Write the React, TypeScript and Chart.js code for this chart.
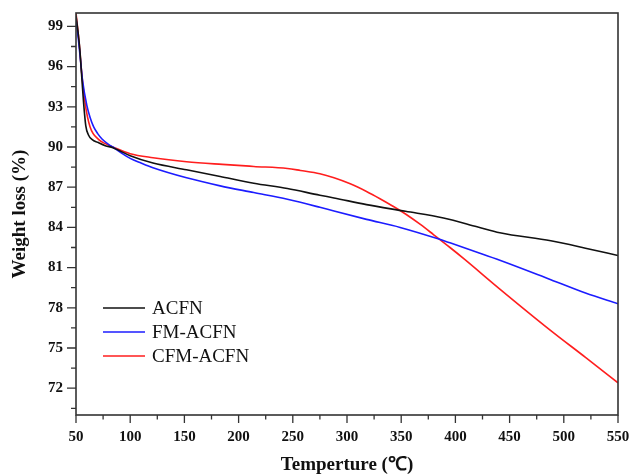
import React, { useEffect, useRef } from 'react';
import { Chart, registerables } from 'chart.js';

Chart.register(...registerables);

// ---- data ----
const ACFN_T = [50, 52, 53.5, 55.5, 57, 59, 61.5, 65, 70, 77, 84, 100, 121, 152, 183, 214, 245, 275, 288, 318, 354, 389, 420, 441, 488, 520, 550];
const ACFN_W = [99.8, 98.5, 97.3, 95.0, 93.3, 91.6, 90.9, 90.55, 90.35, 90.1, 89.95, 89.35, 88.8, 88.3, 87.8, 87.3, 86.9, 86.4, 86.2, 85.7, 85.2, 84.7, 84.05, 83.6, 83.0, 82.45, 81.9];

const FM_T = [50, 52, 54, 56, 60, 63, 66.3, 70, 74, 80, 84, 92, 100, 110, 121, 152, 183, 214, 245, 275, 288, 318, 349, 384, 395, 420, 441, 488, 520, 550];
const FM_W = [99.6, 98.2, 96.6, 95.0, 93.1, 92.2, 91.5, 91.0, 90.6, 90.2, 90.0, 89.55, 89.15, 88.8, 88.45, 87.7, 87.1, 86.6, 86.1, 85.5, 85.22, 84.6, 84.0, 83.15, 82.85, 82.15, 81.55, 80.1, 79.1, 78.3];

const CFM_T = [50, 53, 55.5, 58.5, 63, 71, 77, 84, 100, 121, 152, 185, 214, 245, 257, 275, 288, 303, 318, 330, 342, 354, 368, 380, 395, 408, 441, 488, 520, 550];
const CFM_W = [100, 97.7, 95.3, 93.2, 91.5, 90.55, 90.25, 90.0, 89.5, 89.2, 88.9, 88.7, 88.55, 88.4, 88.25, 88.0, 87.7, 87.25, 86.68, 86.16, 85.6, 85.0, 84.2, 83.45, 82.5, 81.65, 79.4, 76.3, 74.3, 72.4];

const SERIES_NAMES = ['ACFN', 'FM-ACFN', 'CFM-ACFN'];
const SERIES_COLORS = ['#111111', '#1c1cff', '#ff1e1e'];

const Y_TICKS = [72, 75, 78, 81, 84, 87, 90, 93, 96, 99];
const Y_MINOR = [70.5, 73.5, 76.5, 79.5, 82.5, 85.5, 88.5, 91.5, 94.5, 97.5];
const X_MINOR = [75, 125, 175, 225, 275, 325, 375, 425, 475, 525];

const X_TITLE = 'Temperture (\u2103)';
const Y_TITLE = 'Weight loss (%)';

const FONT = "'Liberation Serif', 'Times New Roman', serif";

const zip = (t: number[], w: number[]) => t.map((x, i) => ({ x, y: w[i] }));

const framePlugin = {
  id: 'frame',
  afterDraw(chart: any) {
    const { ctx, chartArea: a, scales } = chart;
    const xs = scales.x;
    const ys = scales.y;
    ctx.save();
    ctx.strokeStyle = '#333333';
    ctx.lineWidth = 1.6;
    ctx.strokeRect(a.left, a.top, a.right - a.left, a.bottom - a.top);
    ctx.lineWidth = 1.3;
    ctx.beginPath();
    Y_TICKS.forEach((v) => {
      const y = ys.getPixelForValue(v);
      ctx.moveTo(a.left - 9, y);
      ctx.lineTo(a.left, y);
    });
    Y_MINOR.forEach((v) => {
      const y = ys.getPixelForValue(v);
      ctx.moveTo(a.left - 5, y);
      ctx.lineTo(a.left, y);
    });
    xs.ticks.forEach((t: any) => {
      const x = xs.getPixelForValue(t.value);
      ctx.moveTo(x, a.bottom);
      ctx.lineTo(x, a.bottom + 8);
    });
    X_MINOR.forEach((v) => {
      const x = xs.getPixelForValue(v);
      ctx.moveTo(x, a.bottom);
      ctx.lineTo(x, a.bottom + 4.5);
    });
    ctx.stroke();

    // legend inside the plot
    const lx = a.left + 27;
    let ly = a.top + 295;
    chart.data.datasets.forEach((ds: any) => {
      ctx.strokeStyle = ds.borderColor;
      ctx.lineWidth = 1.6;
      ctx.beginPath();
      ctx.moveTo(lx, ly);
      ctx.lineTo(lx + 42, ly);
      ctx.stroke();
      ctx.fillStyle = '#111';
      ctx.font = `19px ${FONT}`;
      ctx.textBaseline = 'middle';
      ctx.textAlign = 'left';
      ctx.fillText(ds.label, lx + 49, ly + 1);
      ly += 24;
    });
    ctx.restore();
  },
};

export default function App() {
  const ref = useRef<HTMLCanvasElement | null>(null);

  useEffect(() => {
    if (!ref.current) return;
    const pairs = [zip(ACFN_T, ACFN_W), zip(FM_T, FM_W), zip(CFM_T, CFM_W)];
    const chart = new Chart(ref.current, {
      type: 'line',
      data: {
        datasets: pairs.map((d, i) => ({
          label: SERIES_NAMES[i],
          data: d,
          borderColor: SERIES_COLORS[i],
          backgroundColor: SERIES_COLORS[i],
          borderWidth: 1.6,
          pointRadius: 0,
          cubicInterpolationMode: 'monotone' as const,
          fill: false,
        })),
      },
      options: {
        animation: false,
        responsive: false,
        devicePixelRatio: 1,
        layout: { padding: { top: 13, right: 12, left: 0, bottom: 0 } },
        plugins: {
          legend: { display: false },
          tooltip: { enabled: false },
        },
        scales: {
          x: {
            type: 'linear',
            min: 50,
            max: 550,
            grid: { display: false, drawTicks: false },
            border: { display: false },
            ticks: {
              stepSize: 50,
              padding: 13,
              color: '#111',
              font: { family: FONT, size: 15, weight: 'bold' },
              maxRotation: 0,
            },
            title: {
              display: true,
              text: X_TITLE,
              color: '#111',
              font: { family: FONT, size: 19, weight: 'bold', lineHeight: 1 },
              padding: { top: 0, bottom: 0 },
            },
            afterFit: (s: any) => {
              s.height = 60;
              s.paddingLeft = 0;
              s.paddingRight = 0;
            },
          },
          y: {
            type: 'linear',
            min: 70,
            max: 100,
            grid: { display: false, drawTicks: false },
            border: { display: false },
            afterBuildTicks: (s: any) => {
              s.ticks = Y_TICKS.map((v) => ({ value: v }));
            },
            ticks: {
              padding: 13,
              color: '#111',
              font: { family: FONT, size: 15, weight: 'bold' },
            },
            title: {
              display: true,
              text: Y_TITLE,
              color: '#111',
              font: { family: FONT, size: 19, weight: 'bold', lineHeight: 1 },
              padding: { top: 11, bottom: 0 },
            },
            afterFit: (s: any) => {
              s.width = 76;
              s.paddingTop = 0;
              s.paddingBottom = 0;
            },
          },
        },
      },
      plugins: [framePlugin],
    });
    return () => chart.destroy();
  }, []);

  return (
    <div style={{ position: 'fixed', left: 0, top: 0, width: 630, height: 475, background: '#fff' }}>
      <canvas ref={ref} width={630} height={475} style={{ display: 'block' }} />
    </div>
  );
}
